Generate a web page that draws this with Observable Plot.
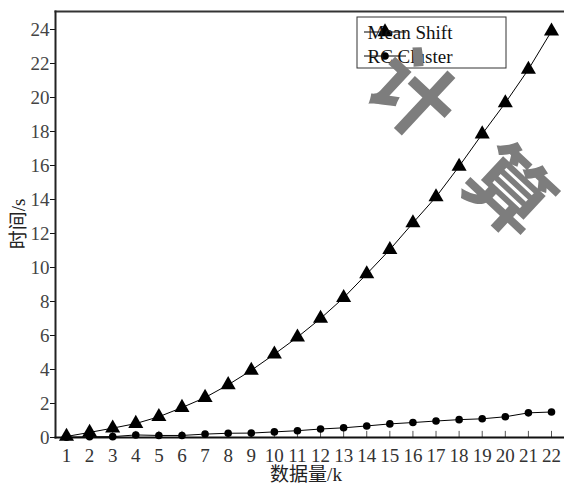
<!DOCTYPE html>
<html>
<head>
<meta charset="utf-8">
<script src="https://cdn.jsdelivr.net/npm/d3@7"></script>
<script src="https://cdn.jsdelivr.net/npm/@observablehq/plot@0.6"></script>
<style>
  html, body { margin: 0; padding: 0; background: #fff; }
  #wrap { position: relative; width: 564px; height: 488px; overflow: hidden; }
  #wrap svg text { font-family: 'Liberation Serif', 'DejaVu Serif', 'Noto Sans CJK SC', serif; }
  .wm { position: absolute; font-family: 'Noto Sans CJK SC'; font-weight: 700; color: #7d7d7d;
        font-size: 84px; line-height: 1; transform: translate(-50%, -50%) rotate(43deg); pointer-events: none; }
</style>
</head>
<body>
<div id="wrap"></div>
<script>
const categories = [1,2,3,4,5,6,7,8,9,10,11,12,13,14,15,16,17,18,19,20,21,22];
const meanShift = [0.06,0.3,0.55,0.82,1.22,1.76,2.35,3.1,3.95,4.9,5.9,7.0,8.22,9.62,11.05,12.62,14.15,15.95,17.85,19.68,21.65,23.9];
const rcCluster = [0.02,0.04,0.05,0.15,0.12,0.12,0.2,0.25,0.26,0.33,0.4,0.5,0.57,0.68,0.8,0.88,0.97,1.05,1.1,1.22,1.45,1.5];
const yTicks = [0,2,4,6,8,10,12,14,16,18,20,22,24];
const seriesNames = ["Mean Shift", "RC Cluster"];
const xLabel = "数据量/k";
const yLabel = "时间/s";
const watermark = ["计", "算"];

const ms = categories.map((k, i) => ({k, v: meanShift[i]}));
const rc = categories.map((k, i) => ({k, v: rcCluster[i]}));

const serif = "'Liberation Serif', 'DejaVu Serif', 'Noto Sans CJK SC', serif";

const chart = Plot.plot({
  width: 564,
  height: 488,
  marginLeft: 55,
  marginTop: 11,
  marginBottom: 51,
  marginRight: 0,
  style: {fontFamily: serif, fontSize: "19px", background: "white", color: "#222"},
  x: {domain: [1, 22], range: [66, 551]},
  y: {domain: [0, 24], range: [437, 29]},
  marks: [
    Plot.axisY({ticks: yTicks, tickSize: 5, tickPadding: 1, label: null, fontSize: 19, stroke: "#111", fill: "#444"}),
    Plot.axisX({ticks: categories, tickSize: 0, tickPadding: 11, label: null, fontSize: 19, fill: "#333", tickFormat: d => String(d)}),
    Plot.ruleX(categories, {x: d => d, y1: 0, y2: 0.36, stroke: "#555", strokeWidth: 1}),
    Plot.frame({anchor: "top", stroke: "#333", strokeWidth: 2}),
    Plot.frame({anchor: "left", stroke: "#222", strokeWidth: 2}),
    Plot.frame({anchor: "bottom", stroke: "#111", strokeWidth: 2}),
    Plot.line(rc, {x: "k", y: "v", stroke: "black", strokeWidth: 1}),
    Plot.dot(rc, {x: "k", y: "v", r: 3.8, fill: "black", stroke: "none"}),
    Plot.line(ms, {x: "k", y: "v", stroke: "black", strokeWidth: 1}),
    Plot.dot(ms, {x: "k", y: "v", symbol: "triangle", r: 5.6, fill: "black", stroke: "none"})
  ]
});

const wrap = document.getElementById("wrap");
wrap.appendChild(chart);

const svg = d3.select(chart);
// axis titles
svg.append("text")
  .attr("transform", "translate(18,224) rotate(-90)")
  .attr("text-anchor", "middle")
  .attr("dominant-baseline", "central")
  .attr("font-size", 19)
  .attr("fill", "#222")
  .text(yLabel);
svg.append("text")
  .attr("x", 306).attr("y", 481)
  .attr("text-anchor", "middle")
  .attr("font-size", 19)
  .attr("fill", "#222")
  .text(xLabel);

// legend
const lg = svg.append("g");
lg.append("rect").attr("x", 357).attr("y", 17).attr("width", 149).attr("height", 51)
  .attr("fill", "white").attr("stroke", "#333").attr("stroke-width", 1);
const rows = [{y: 32, sym: d3.symbolTriangle, size: Math.PI * 5.6 * 5.6}, {y: 56, sym: d3.symbolCircle, size: Math.PI * 3.8 * 3.8}];
rows.forEach((r, i) => {
  lg.append("line").attr("x1", 364).attr("x2", 406).attr("y1", r.y).attr("y2", r.y)
    .attr("stroke", "black").attr("stroke-width", 1);
  lg.append("path").attr("d", d3.symbol(r.sym, r.size)()).attr("transform", `translate(385,${r.y})`).attr("fill", "black");
  lg.append("text").attr("x", 410).attr("y", r.y + 6.5)
    .attr("font-size", 19).attr("fill", "#111")
    .text(seriesNames[i]);
});

// watermark overlay
const wmPos = [[417, 90], [513, 187]];
watermark.forEach((ch, i) => {
  const d = document.createElement("div");
  d.className = "wm";
  d.style.left = wmPos[i][0] + "px";
  d.style.top = wmPos[i][1] + "px";
  d.textContent = ch;
  wrap.appendChild(d);
});
</script>
</body>
</html>
